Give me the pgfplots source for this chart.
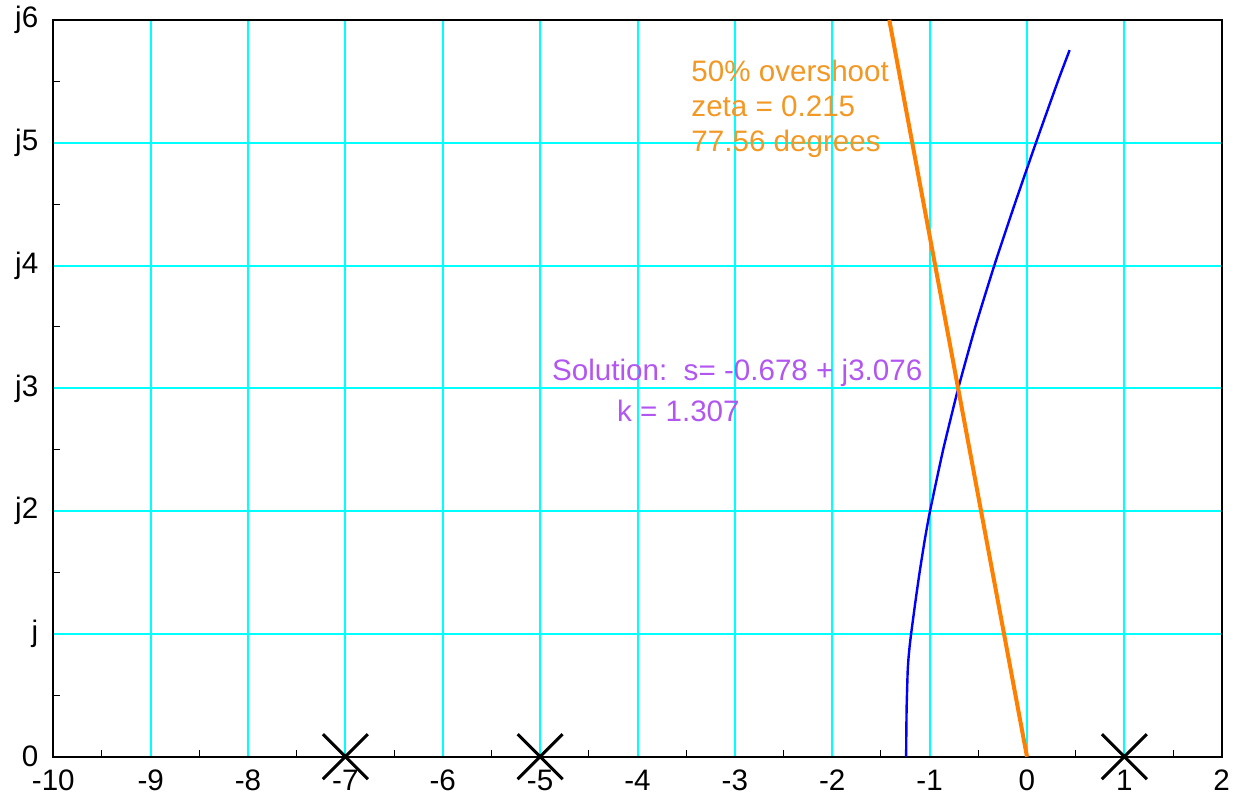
\documentclass[border=0pt]{standalone}
\usepackage{fontspec}
\setmainfont{Liberation Sans}
\usepackage{pgfplots}
\pgfplotsset{compat=1.18}
\definecolor{gridcyan}{RGB}{0,255,255}
\definecolor{lineorange}{RGB}{255,128,0}
\definecolor{textorange}{RGB}{242,152,36}
\definecolor{textpurple}{RGB}{178,86,240}
\begin{document}
\begin{tikzpicture}
\begin{axis}[
  scale only axis, width=584.2pt, height=368.35pt,
  xmin=-10, xmax=2, ymin=0, ymax=6,
  xtick={-10,-9,-8,-7,-6,-5,-4,-3,-2,-1,0,1,2},
  xticklabels={-10,-9,-8,-7,-6,-5,-4,-3,-2,-1,0,1,2},
  ytick={0,1,2,3,4,5,6},
  yticklabels={0,j,j2,j3,j4,j5,j6},
  minor x tick num=1, minor y tick num=1,
  major tick length=0pt, minor tick length=3.5pt,
  tick pos=left,
  xmajorgrids=true, ymajorgrids=true,
  grid style={draw=gridcyan, line width=1pt},
  major grid style={draw=gridcyan, line width=1pt},
  axis line style={line width=1pt},
  minor tick style={black, line width=0.5pt},
  every tick label/.append style={font=\fontsize{14.8}{17.5}\selectfont},
  xticklabel style={yshift=-3pt},
  yticklabel style={xshift=-4pt},
  clip=false,
]
\addplot[blue, line width=1.2pt, smooth, tension=0.3] coordinates {
(-1.241,0) (-1.239,0.2) (-1.236,0.4) (-1.229,0.6) (-1.225,0.7) (-1.217,0.8)
(-1.205,0.9) (-1.19,1.0) (-1.148,1.25) (-1.103,1.5) (-1.050,1.765) (-0.996,2.0)
(-0.861,2.5) (-0.706,3.0) (-0.531,3.5) (-0.336,4.0) (-0.126,4.5) (0.092,5.0)
(0.317,5.5) (0.438,5.755)};
\addplot[lineorange, line width=2pt] coordinates {(0,0) (-1.414,6)};
\addplot[only marks, mark=x, mark size=15.9pt, mark options={draw=black, line width=1.5pt}] coordinates {(-7,0) (-5,0) (1,0)};
\node[anchor=base west, inner sep=0, text=textorange, font=\fontsize{14.8}{17.5}\selectfont] at (axis cs:-3.45,5.497) {50\% overshoot};
\node[anchor=base west, inner sep=0, text=textorange, font=\fontsize{14.8}{17.5}\selectfont] at (axis cs:-3.45,5.212) {zeta = 0.215};
\node[anchor=base west, inner sep=0, text=textorange, font=\fontsize{14.8}{17.5}\selectfont] at (axis cs:-3.45,4.927) {77.56 degrees};
\node[anchor=base west, inner sep=0, text=textpurple, font=\fontsize{14.8}{17.5}\selectfont] at (axis cs:-4.881,3.067) {Solution:\ \ s= -0.678 + j3.076};
\node[anchor=base west, inner sep=0, text=textpurple, font=\fontsize{14.8}{17.5}\selectfont] at (axis cs:-4.214,2.728) {k = 1.307};
\end{axis}
\pgfresetboundingbox
\path (-26.65pt,-23.65pt) rectangle (594.35pt,378.35pt);
\end{tikzpicture}
\end{document}
